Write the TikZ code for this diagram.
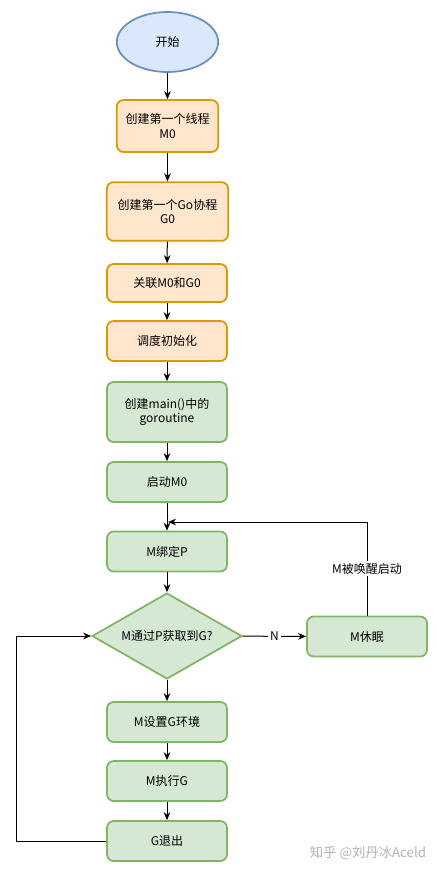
\documentclass[tikz,border=0pt]{standalone}
\usepackage{fontspec}
\setmainfont{Noto Sans CJK SC}
\usepackage{xcolor}
\usetikzlibrary{shapes.geometric,arrows.meta}

\definecolor{orangefill}{HTML}{FFE6CC}
\definecolor{orangeline}{HTML}{D79B00}
\definecolor{greenfill}{HTML}{D5E8D4}
\definecolor{greenline}{HTML}{82B366}
\definecolor{bluefill}{HTML}{DAE8FC}
\definecolor{blueline}{HTML}{6C8EBF}

\tikzset{
  every node/.style={font=\fontsize{9}{11}\selectfont, align=center, inner sep=0.75pt},
  orangebox/.style={draw=orangeline, fill=orangefill, line width=1.3pt, rounded corners=5pt, minimum width=90pt},
  greenbox/.style={draw=greenline, fill=greenfill, line width=1.3pt, rounded corners=5pt, minimum width=90pt, minimum height=30pt},
  flow/.style={draw=black, line width=0.75pt, -{Stealth[length=6pt,width=5pt]}},
  edgelabel/.style={fill=white, inner sep=1.5pt}
}

\begin{document}
\begin{tikzpicture}[x=0.75pt,y=0.75pt,yscale=-1,xscale=1]
            \useasboundingbox (0,0) rectangle (439,872);

            %Shape: Ellipse [id:start]
            \node [ellipse, draw=blueline, fill=bluefill, line width=1.3pt, minimum width=76pt, minimum height=45pt] (start) at (167.5,42) {开始};
            %Shape: Rectangle [id:newm]
            \node [orangebox, minimum width=76pt, minimum height=39pt] (newm) at (167.5,126) {创建第一个线程\\M0};
            %Shape: Rectangle [id:newg]
            \node [orangebox, minimum width=91pt, minimum height=44pt] (newg) at (167.5,211.5) {创建第一个Go协程\\G0};
            %Shape: Rectangle [id:link]
            \node [orangebox, minimum height=28.5pt] (link) at (167,283) {关联M0和G0};
            %Shape: Rectangle [id:sched]
            \node [orangebox, minimum height=30pt] (sched) at (167,341) {调度初始化};
            %Shape: Rectangle [id:maing]
            \node [greenbox, minimum height=45pt] (maing) at (167,412) {创建main()中的\\goroutine};
            %Shape: Rectangle [id:startm]
            \node [greenbox] (startm) at (167,482) {启动M0};
            %Shape: Rectangle [id:bind]
            \node [greenbox] (bind) at (167,551.5) {M绑定P};
            %Shape: Diamond [id:check]
            \node [diamond, aspect=1.74, draw=greenline, fill=greenfill, line width=1.3pt, minimum width=112.5pt, minimum height=64.5pt, inner sep=0pt] (check) at (167,636) {M通过P获取到G?};
            %Shape: Rectangle [id:sleep]
            \node [greenbox] (sleep) at (367,636.5) {M休眠};
            %Shape: Rectangle [id:setg]
            \node [greenbox] (setg) at (167,722) {M设置G环境};
            %Shape: Rectangle [id:rung]
            \node [greenbox] (rung) at (167,781) {M执行G};
            %Shape: Rectangle [id:gexit]
            \node [greenbox] (gexit) at (167,841) {G退出};

            \coordinate (join) at (168,522);

            %Straight Lines
            \draw [flow] (start) -- (newm);
            \draw [flow] (newm) -- (newg);
            \draw [flow] (newg) -- (link);
            \draw [flow] (link) -- (sched);
            \draw [flow] (sched) -- (maing);
            \draw [flow] (maing) -- (startm);
            \draw [flow] (startm) -- (bind);
            \draw [flow] (bind) -- (check);
            \draw [flow] (check) -- (setg);
            \draw [flow] (setg) -- (rung);
            \draw [flow] (rung) -- (gexit);
            \draw [flow] (check) -- node [edgelabel] {N} (sleep);
            %Elbow Lines
            \draw [flow] (sleep.north) |- node [edgelabel, pos=0.25] {M被唤醒启动} (join);
            \draw [flow] (gexit.west) -- ++(-90,0) |- (check.west);

            % Text Node
            \node [text=black!30, font=\fontsize{10}{12}\selectfont] (mark) at (368,853) {知乎 @刘丹冰Aceld};

\end{tikzpicture}
\end{document}
